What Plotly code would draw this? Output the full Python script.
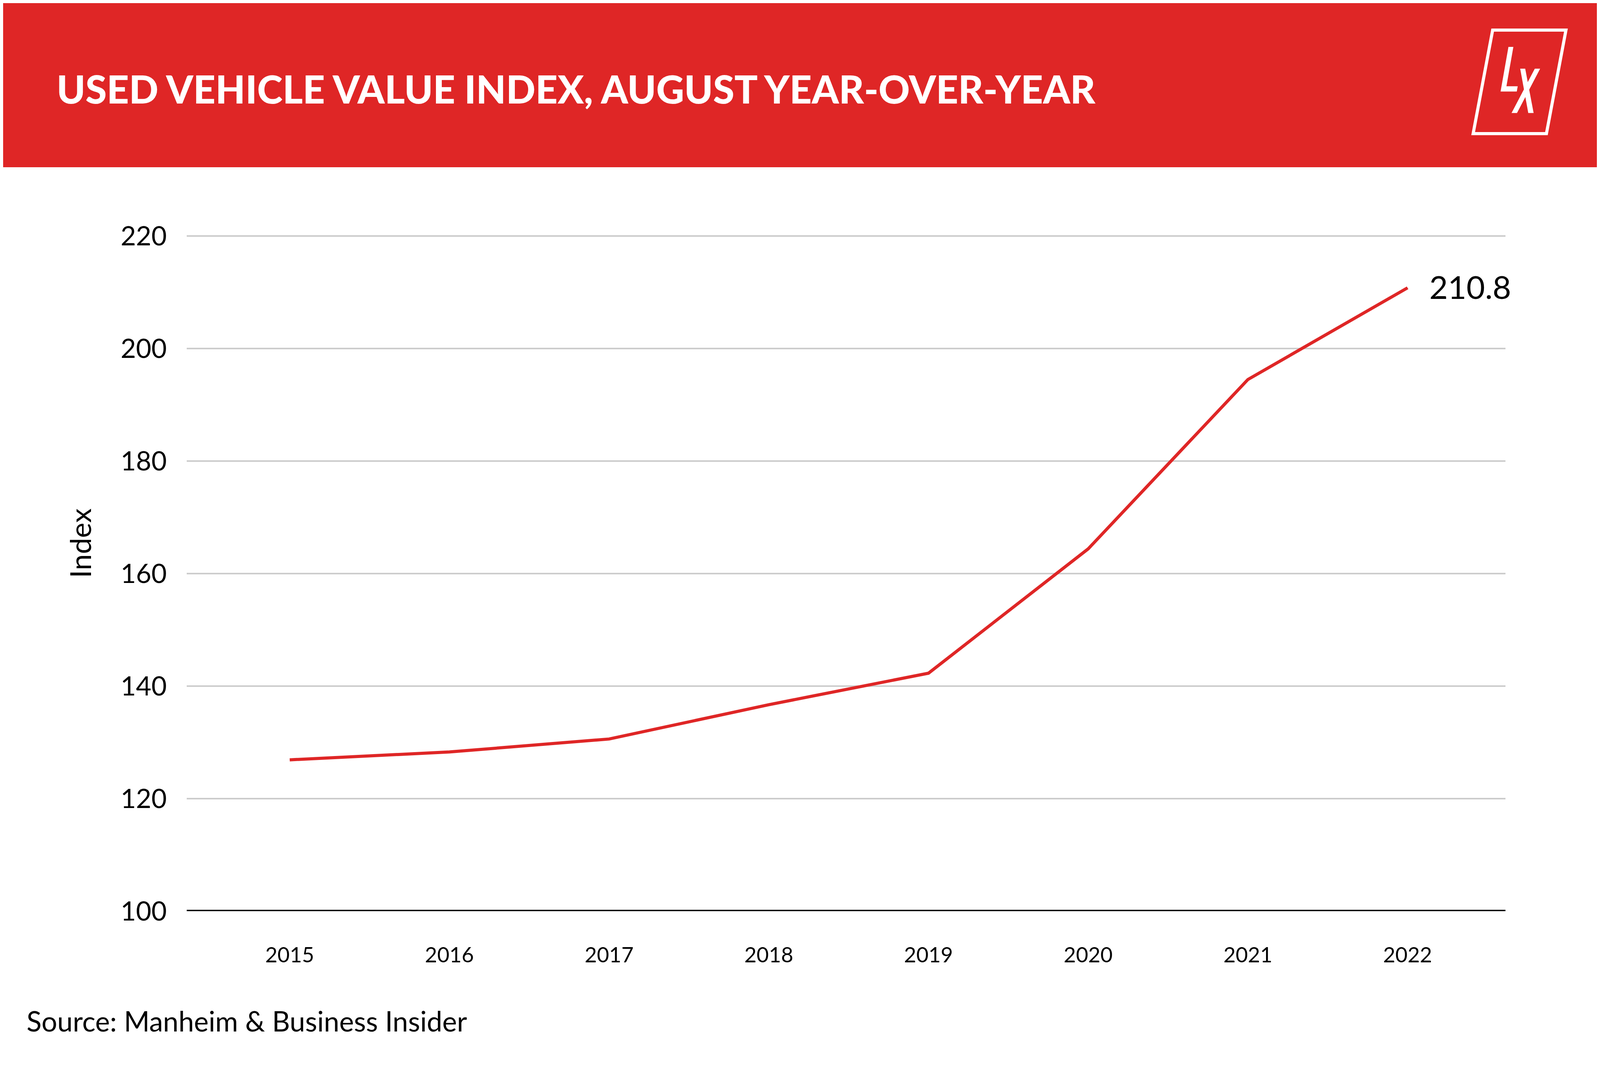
import plotly.graph_objects as go

# data
years = [2015, 2016, 2017, 2018, 2019, 2020, 2021, 2022]
index_values = [126.9, 128.3, 130.6, 136.7, 142.3, 164.4, 194.5, 210.8]
y_ticks = [100, 120, 140, 160, 180, 200, 220]

RED = '#DF2626'
FONT = 'Lato'

# the browser viewport comes out ~4096 css px wide, so the layout is sized to it;
# positions below are measured on the 5000x2759 reference and mapped with px()/py()
W, H = 4080, 2743
SX = 4096 / 5000
L = 583 * SX - 8
R = W - (4704 * SX - 8)
T = 602 - 8
B = H - (2332 - 8)


def px(x):
    return (x - 583) / (4704 - 583)


def py(y):
    return (2332 - y) / (2332 - 602)


def path(points):
    return 'M ' + ' L '.join(f'{px(a):.5f},{py(b):.5f}' for a, b in points) + ' Z'


fig = go.Figure(go.Scatter(
    x=years,
    y=index_values,
    mode='lines',
    line=dict(color=RED, width=8),
    hoverinfo='x+y',
))

shapes = [
    # red header band
    dict(type='rect', xref='paper', yref='paper', x0=px(-20), x1=px(5020), y0=py(428), y1=py(-20),
         fillcolor=RED, line_width=0, layer='above'),
    # baseline at 100
    dict(type='line', xref='paper', yref='y', x0=0, x1=1, y0=100, y1=100,
         line=dict(color='black', width=7)),
    # logo frame
    dict(type='path', xref='paper', yref='paper',
         path=path([(4603, 342), (4664, 77), (4893, 77), (4832, 342)]),
         line=dict(color='white', width=8)),
    # logo L
    dict(type='path', xref='paper', yref='paper',
         path=path([(4713.3, 120), (4728.7, 120), (4707, 220.7), (4742.3, 220.7),
                    (4739.3, 234.3), (4688.7, 234.3)]),
         fillcolor='white', line_width=0),
    # logo X
    dict(type='path', xref='paper', yref='paper',
         path=path([(4750, 175.7), (4765.7, 175.7), (4792, 289.3), (4775.3, 289.3)]),
         fillcolor='white', line_width=0),
    dict(type='path', xref='paper', yref='paper',
         path=path([(4795.7, 175.7), (4812.3, 175.7), (4740, 289.3), (4723, 289.3)]),
         fillcolor='white', line_width=0),
]

annotations = [
    dict(text='USED VEHICLE VALUE INDEX, AUGUST YEAR-OVER-YEAR', xref='paper', yref='paper',
         x=px(174), y=py(226), xanchor='left', yanchor='middle', showarrow=False,
         font=dict(family=FONT, size=99, color='white', weight=900)),
    dict(text='Index', xref='paper', yref='paper', x=px(248), y=py(1391), textangle=-90,
         xanchor='center', yanchor='middle', showarrow=False,
         font=dict(family=FONT, size=74, color='black')),
    dict(text='Source: Manheim & Business Insider', xref='paper', yref='paper',
         x=px(80), y=py(2612), xanchor='left', yanchor='middle', showarrow=False,
         font=dict(family=FONT, size=71, color='black')),
    dict(text=f'{index_values[-1]}', x=years[-1], y=index_values[-1], xref='x', yref='y',
         xanchor='left', yanchor='middle', xshift=54, yshift=4, showarrow=False,
         font=dict(family=FONT, size=82, color='black')),
]

fig.update_layout(
    width=W, height=H,
    margin=dict(l=L, r=R, t=T, b=B, pad=0),
    paper_bgcolor='white', plot_bgcolor='white',
    showlegend=False,
    shapes=shapes,
    annotations=annotations,
    xaxis=dict(
        range=[2014.355, 2022.613],
        tickmode='array', tickvals=years, ticktext=[str(y) for y in years],
        showgrid=False, zeroline=False, showline=False, ticks='',
        ticklabelstandoff=76,
        tickfont=dict(family=FONT, size=54, color='black'),
    ),
    yaxis=dict(
        # a hair above 220 so plotly keeps the top gridline
        range=[100, 220.15],
        tickmode='array', tickvals=y_ticks,
        showgrid=True, gridcolor='#CCCCCC', gridwidth=3.5,
        zeroline=False, showline=False, ticks='',
        ticklabelstandoff=50,
        tickfont=dict(family=FONT, size=68, color='black'),
    ),
)

fig.write_html('out.html')
